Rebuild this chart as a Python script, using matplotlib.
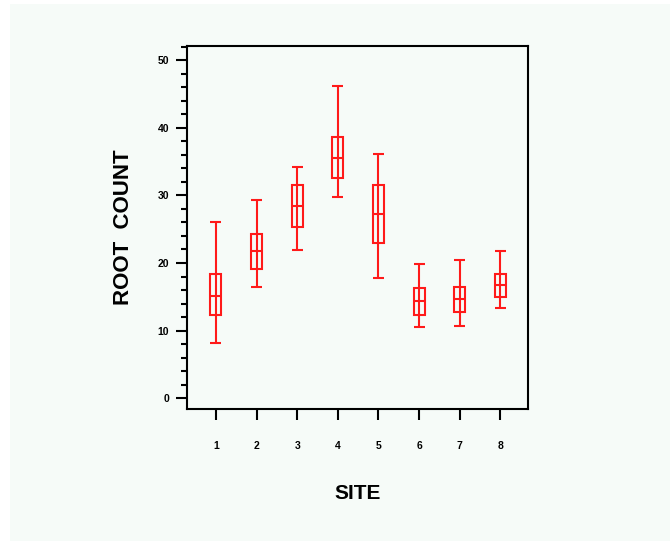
import matplotlib
matplotlib.use("Agg")
import matplotlib.pyplot as plt
from matplotlib.patches import Rectangle
from matplotlib.ticker import MultipleLocator

sites = [1, 2, 3, 4, 5, 6, 7, 8]
whisk_lo = [8.1, 16.5, 21.9, 29.8, 17.8, 10.5, 10.7, 13.3]
q1 = [12.3, 19.1, 25.3, 32.6, 23.0, 12.3, 12.8, 14.9]
median = [15.1, 21.7, 28.5, 35.6, 27.2, 14.4, 14.7, 16.7]
q3 = [18.3, 24.3, 31.6, 38.6, 31.6, 16.3, 16.5, 18.3]
whisk_hi = [26.1, 29.3, 34.2, 46.2, 36.1, 19.9, 20.4, 21.7]

bg = "#f6fbf8"
red = "#ff1a1a"
plt.rcParams['font.family'] = ['Liberation Sans', 'DejaVu Sans']

fig = plt.figure(figsize=(6.7, 5.41), dpi=100, facecolor="white")
fig.patches.append(Rectangle((10 / 670, 0), 1 - 10 / 670, 1 - 4 / 541,
                             transform=fig.transFigure, facecolor=bg,
                             edgecolor="none", zorder=-10))

ax = fig.add_axes([187 / 670, 1 - 409 / 541, (528 - 187) / 670, (409 - 46) / 541])
ax.set_facecolor(bg)

w = 0.27
ax.vlines(sites, whisk_lo, whisk_hi, color=red, lw=1.5)
ax.bar(sites, [b - a for a, b in zip(q1, q3)], bottom=q1, width=w,
       fill=False, edgecolor=red, lw=1.5)
for x, lo, m, hi in zip(sites, whisk_lo, median, whisk_hi):
    ax.hlines([lo, m, hi], x - w / 2, x + w / 2, color=red, lw=1.5)

ax.set_xlim(0.29, 8.68)
ax.set_ylim(-1.6, 52.1)
ax.set_xticks(sites)
ax.set_yticks([0, 10, 20, 30, 40, 50])
ax.yaxis.set_minor_locator(MultipleLocator(2))

for s in ax.spines.values():
    s.set_linewidth(1.5)
ax.tick_params(axis="both", which="major", direction="out", length=8, width=1.5,
               labelsize=7.5)
ax.tick_params(axis="y", which="minor", direction="out", length=4, width=1.5)
ax.tick_params(axis="y", which="major", pad=5)
ax.tick_params(axis="x", which="major", pad=15)
for lbl in ax.get_xticklabels() + ax.get_yticklabels():
    lbl.set_fontweight("bold")

ax.set_xlabel("SITE", fontsize=15, fontweight="bold", labelpad=24)
ax.set_ylabel("ROOT  COUNT", fontsize=16, fontweight="bold", labelpad=17)

fig.savefig("out.png", dpi=100, facecolor=fig.get_facecolor())
